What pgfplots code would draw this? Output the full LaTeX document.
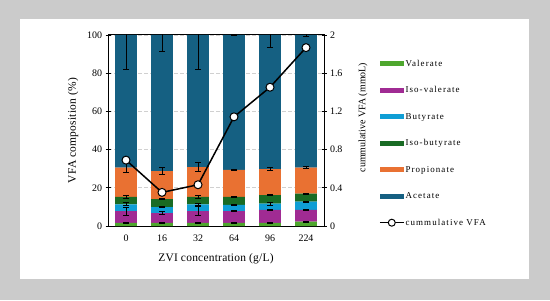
\documentclass[border=0pt]{standalone}
\usepackage{fontspec}
\setmainfont{Liberation Serif}
\newfontfamily\legfont[LetterSpace=12]{Liberation Serif}
\newfontfamily\labfont[LetterSpace=2]{Liberation Serif}
\usepackage{pgfplots}
\usepackage{pgfplotstable}
\pgfplotsset{compat=1.18}
\definecolor{cAce}{HTML}{156082}
\definecolor{cPro}{HTML}{E97132}
\definecolor{cIsoBut}{HTML}{196B24}
\definecolor{cBut}{HTML}{0F9ED5}
\definecolor{cIsoVal}{HTML}{A02B93}
\definecolor{cVal}{HTML}{4EA72E}
\definecolor{bggray}{HTML}{CBCBCB}
\definecolor{gridgray}{HTML}{D0D0D0}

\pgfplotsset{
  cumlegend/.style={legend image code/.code={%
    \draw[black, line width=1.5bp] (0bp,0bp) -- (24bp,0bp);
    \draw[black, fill=white, line width=1bp] (12bp,0bp) circle (3.5bp);}},
  barlegend/.style={legend image code/.code={\fill[##1] (0bp,-2.6bp) rectangle (24bp,2.6bp);}},
}

\pgfplotstableread{
x val isoval but isobut pro ace
0 1.6 6.2 3.5 3.9 15.3 69.5
1 1.6 5.2 3.1 4.2 14.6 71.3
2 1.6 6.2 3.5 3.9 15.6 69.2
3 1.6 6.2 3.2 4.2 14.2 70.6
4 1.6 6.9 3.2 4.5 13.6 70.2
5 2.3 6.2 4.2 4.2 13.6 69.5
}\bars

\pgfplotstableread{
x y e
0 1.6 0.3
0 7.8 2.1
0 11.3 0.8
0 15.2 0.7
0 30.5 2.5
0 100 18
1 1.6 0.3
1 6.8 0.6
1 9.9 0.3
1 14.1 0.4
1 28.7 1.8
1 100 8.7
2 1.6 0.3
2 7.8 2.4
2 11.3 0.5
2 15.2 0.6
2 30.8 2.4
2 100 18
3 1.6 0.2
3 7.8 0.3
3 11.0 0.3
3 15.2 0.3
3 29.4 0.2
3 100 0.2
4 1.6 0.3
4 8.5 0.3
4 11.7 0.8
4 16.2 0.3
4 29.8 0.6
4 100 6.3
5 2.3 0.3
5 8.5 0.3
5 12.7 0.3
5 16.9 0.3
5 30.5 0.4
5 100 0.7
}\errs

\pgfplotstableread{
x cum
0 0.690
1 0.352
2 0.432
3 1.143
4 1.453
5 1.868
}\cumvfa

\begin{document}
\begin{tikzpicture}[x=1bp,y=1bp]
\fill[bggray] (0,0) rectangle (550,300);
\fill[white] (20,21) rectangle (529,281);

\pgfplotsset{
  common/.style={
    scale only axis, width=216bp, height=191bp,
    at={(108bp,74bp)}, anchor=south west,
    xmin=-0.5, xmax=5.5,
    /pgf/number format/assume math mode=true,
    tick label style={font=\fontsize{10}{12}\selectfont},
  }
}

\begin{axis}[common,
  ybar stacked, bar width=0.61,
  ymin=0, ymax=100,
  ytick={0,20,40,60,80,100},
  xtick={0,1,2,3,4,5},
  xticklabels={0,16,32,64,96,224},
  xtick style={draw=none},
  x tick label style={yshift=-3bp},
  ytick style={black, line width=0.8bp},
  tick align=center, major tick length=5bp,
  ymajorgrids, grid style={gridgray, dash pattern=on 4bp off 2bp, line width=0.8bp},
  axis line style={black, line width=1bp},
  xlabel={ZVI concentration (g/L)},
  ylabel={VFA composition (\%)},
  every axis x label/.style={at={(axis description cs:0.5,-0.17)}, anchor=center, font=\labfont\fontsize{11.5}{13}\selectfont},
  every axis y label/.style={at={(axis description cs:-0.162,0.5)}, anchor=center, rotate=90, font=\labfont\fontsize{11.5}{13}\selectfont},
  legend style={draw=none, fill=none, at={(1.24,0.89)}, anchor=north west,
    font=\legfont\fontsize{9}{11}\selectfont, row sep=15.5bp,
    nodes={text height=7bp, text depth=2bp, inner sep=1bp}},
  legend cell align=left,
  barlegend,
]
\addplot[fill=cVal, draw=none] table[x=x, y=val] {\bars};
\addlegendentry{Valerate}
\addplot[fill=cIsoVal, draw=none] table[x=x, y=isoval] {\bars};
\addlegendentry{Iso-valerate}
\addplot[fill=cBut, draw=none] table[x=x, y=but] {\bars};
\addlegendentry{Butyrate}
\addplot[fill=cIsoBut, draw=none] table[x=x, y=isobut] {\bars};
\addlegendentry{Iso-butyrate}
\addplot[fill=cPro, draw=none] table[x=x, y=pro] {\bars};
\addlegendentry{Propionate}
\addplot[fill=cAce, draw=none] table[x=x, y=ace] {\bars};
\addlegendentry{Acetate}
\addlegendimage{cumlegend}
\addlegendentry{cummulative VFA}
\end{axis}

\begin{axis}[common, hide axis, ymin=0, ymax=100]
\addplot[draw=none, mark=none,
  error bars/.cd, y dir=both, y explicit,
  error bar style={draw=black, line width=1bp},
  error mark options={draw=black, line width=1bp, mark size=3bp, rotate=90}]
  table[x=x, y=y, y error=e] {\errs};
\end{axis}

\begin{axis}[common,
  ymin=0, ymax=2,
  axis y line*=right, axis x line=none,
  ytick={0,0.4,0.8,1.2,1.6,2},
  yticklabels={0,0.4,0.8,1.2,1.6,2},
  ytick style={black, line width=0.8bp},
  tick align=center, major tick length=5bp,
  axis line style={black, line width=1bp},
  ylabel={cummulative VFA (mmoL)},
  every axis y label/.style={at={(axis description cs:1.181,0.568)}, anchor=center, rotate=90, font=\fontsize{10}{12}\selectfont},
]
\addplot[black, line width=1.5bp, mark=*, mark size=4bp, mark options={fill=white, draw=black, line width=1bp}]
  table[x=x, y=cum] {\cumvfa};
\end{axis}
\end{tikzpicture}
\end{document}
